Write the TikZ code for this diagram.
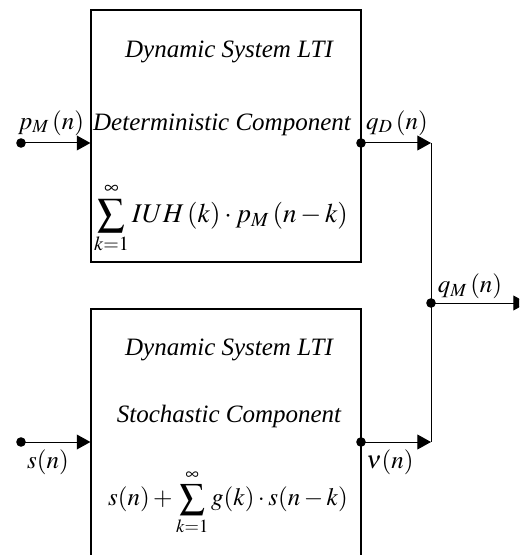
\documentclass[tikz,border=0pt]{standalone}
\usepackage{mathptmx}
\usepackage{fontspec}
\newfontfamily\tnr{Liberation Serif}
\usetikzlibrary{arrows.meta}
\begin{document}
\begin{tikzpicture}[x=0.5pt,y=-0.5pt,
  blk/.style={draw, line width=0.6pt, inner sep=0pt, minimum width=135pt},
  dot/.style={circle, fill=black, inner sep=0pt, minimum size=4.8pt},
  arr/.style={line width=0.5pt, -{Triangle[length=6.8pt,width=7.4pt]}},
  wire/.style={line width=0.5pt},
  txt/.style={font=\fontsize{12.5}{15}\selectfont\tnr\itshape, inner sep=0pt},
  lbl/.style={font=\fontsize{12.5}{15}\selectfont, inner sep=0pt},
  biglbl/.style={font=\fontsize{13.5}{16}\selectfont, inner sep=0pt}]
\useasboundingbox (0,0) rectangle (519,555);
\clip (0,0) rectangle (519,555);
% boxes
\node[blk, minimum height=126pt] (top) at (226,136) {};
\node[blk, minimum height=132pt] (bot) at (226,441) {};
% top box texts
\node[txt] (t1) at (229,52) {Dynamic System LTI};
\node[txt] (t2) at (222,125) {Deterministic Component};
\node[biglbl] (t3) at (221,218) {$\displaystyle\sum_{k=1}^{\infty} IUH\,(k)\cdot p_M\,(n-k)$};
% bottom box texts
\node[txt] (b1) at (229,350) {Dynamic System LTI};
\node[txt] (b2) at (229,416) {Stochastic Component};
\node[lbl] (b3) at (228,502) {$\displaystyle s(n)+\sum_{k=1}^{\infty} g(k)\cdot s(n-k)$};
% dots and coordinates
\node[dot] (pin) at (21,143) {};
\node[dot] (qdot) at (361,143) {};
\coordinate (qd) at (431,143);
\node[dot] (sin) at (21,442) {};
\node[dot] (vdot) at (361,442) {};
\coordinate (vd) at (431,442);
\node[dot] (jdot) at (431,303) {};
\coordinate (out) at (527,303);
% connectors
\draw[arr] (pin.center) -- (pin -| top.west);
\draw[arr] (qdot.center) -- (qd);
\draw[arr] (sin.center) -- (sin -| bot.west);
\draw[arr] (vdot.center) -- (vd);
\draw[wire] (qd) -- (vd);
\draw[arr] (jdot.center) -- (out);
% labels
\node[lbl] (lp) at (51,123) {$p_M\,(n)$};
\node[lbl] (lq) at (397,123) {$q_D\,(n)$};
\node[lbl] (lqm) at (470,286) {$q_M\,(n)$};
\node[lbl] (ls) at (48,462) {$s(n)$};
\node[lbl] (lv) at (390,462) {$\nu(n)$};
\end{tikzpicture}
\end{document}
